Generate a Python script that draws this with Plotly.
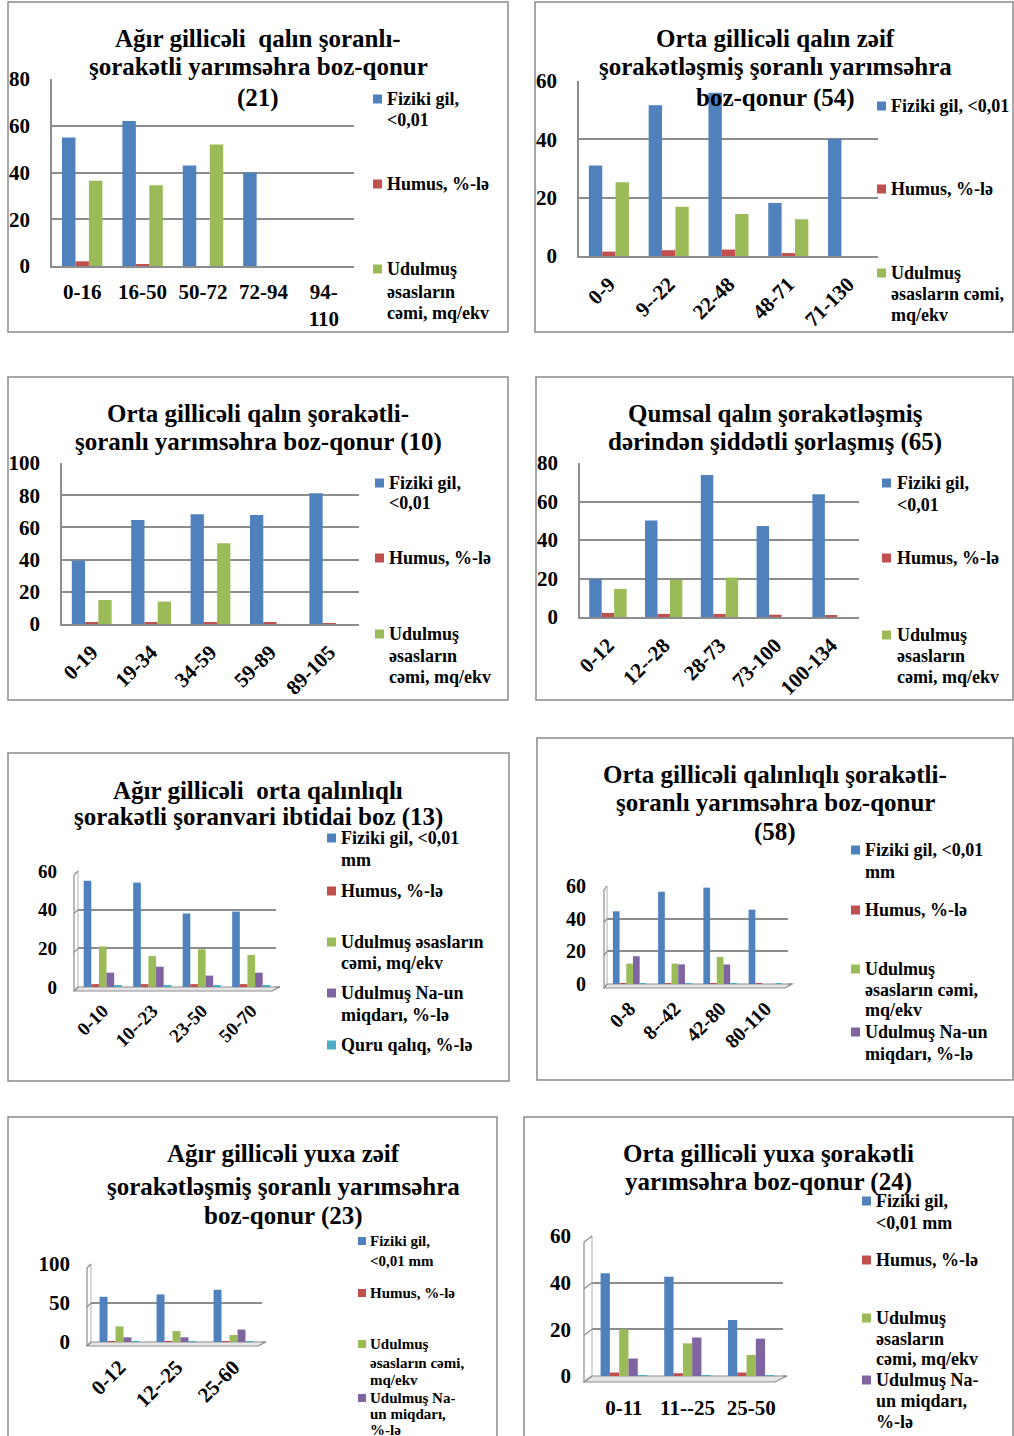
import plotly.graph_objects as go

W, H = 1014, 1436
FONT = "Liberation Serif, Times New Roman, serif"
GRID = "#8C8C8C"
COLORS = {
    "fiziki": "#4F81BD",
    "humus": "#C0504D",
    "udulmus": "#9BBB59",
    "na": "#8064A2",
    "quru": "#4BACC6",
}
NAMES = {
    "fiziki": "Fiziki gil, <0,01 mm",
    "humus": "Humus, %-lə",
    "udulmus": "Udulmuş əsasların cəmi, mq/ekv",
    "na": "Udulmuş Na-un miqdarı, %-lə",
    "quru": "Quru qalıq, %-lə",
}

# ---- data: soil profiles (depth intervals, cm) ----
cats_21 = ["0-16", "16-50", "50-72", "72-94", "94-<br>110"]
fiziki_21 = [55, 62, 43, 40, None]
humus_21 = [2.0, 0.8, None, None, None]
udulmus_21 = [36.5, 34.5, 52, None, None]

cats_54 = ["0-9", "9--22", "22-48", "48-71", "71-130"]
fiziki_54 = [31, 51.7, 56, 18.2, 40.2]
humus_54 = [1.5, 2.0, 2.2, 1.0, None]
udulmus_54 = [25.3, 16.9, 14.4, 12.6, None]

cats_10 = ["0-19", "19-34", "34-59", "59-89", "89-105"]
fiziki_10 = [39.3, 64.6, 68.1, 67.7, 81.2]
humus_10 = [1.0, 1.0, 1.0, 1.0, 0.3]
udulmus_10 = [14.9, 13.9, 50.1, None, None]

cats_65 = ["0-12", "12--28", "28-73", "73-100", "100-134"]
fiziki_65 = [19.7, 50.1, 73.8, 47.3, 63.8]
humus_65 = [2.1, 1.6, 1.6, 1.2, 1.0]
udulmus_65 = [14.6, 19.3, 20.5, None, None]

cats_13 = ["0-10", "10--23", "23-50", "50-70"]
fiziki_13 = [55, 54, 38, 39]
humus_13 = [1.5, 1.5, 1.5, 1.5]
udulmus_13 = [21, 16, 19.5, 16.6]
na_13 = [7.4, 10.5, 5.9, 7.4]
quru_13 = [0.6, 0.6, 0.6, 0.6]

cats_58 = ["0-8", "8--42", "42-80", "80-110"]
fiziki_58 = [44.5, 56.5, 59, 45.5]
humus_58 = [0.5, 0.5, 0.5, 0.5]
udulmus_58 = [12.5, 12.5, 16.5, None]
na_58 = [17, 12, 12, None]
quru_58 = [0.4, 0.4, 0.4, 0.4]

cats_23 = ["0-12", "12--25", "25-60"]
fiziki_23 = [58, 61, 67]
humus_23 = [1.0, 1.0, 1.0]
udulmus_23 = [20, 14, 9]
na_23 = [6, 6, 16]
quru_23 = [0.5, 0.5, 0.5]

cats_24 = ["0-11", "11--25", "25-50"]
fiziki_24 = [44, 42.5, 24]
humus_24 = [1.5, 1.2, 1.5]
udulmus_24 = [20, 14, 9]
na_24 = [7.5, 16.5, 16]
quru_24 = [0.4, 0.4, 0.4]


def fx(x):
    return x / W


def fy(y):
    return 1 - y / H


# ---- panel layouts (pixel geometry of each chart block) ----
panels = [
    dict(cats=cats_21,
         series=[("fiziki", fiziki_21), ("humus", humus_21), ("udulmus", udulmus_21)],
         box=(8, 2, 508, 332), plot=(52, 354, 266, 79), ymax=80, dtick=20, gap=0.33,
         angle=0, tick=21, depth=None, xstand=6,
         title=(258, 25, [("Ağır gillicəli\u00a0 qalın şoranlı-", 38),
                          ("şorakətli yarımsəhra boz-qonur", 67), ("(21)", 98)]),
         legend=(373, 9, 385, 18, [("fiziki", [("Fiziki gil,", 99), ("<0,01", 120)]),
                                   ("humus", [("Humus, %-lə", 184)]),
                                   ("udulmus", [("Udulmuş", 269), ("əsasların", 292),
                                                ("cəmi, mq/ekv", 313)])])),
    dict(cats=cats_54,
         series=[("fiziki", fiziki_54), ("humus", humus_54), ("udulmus", udulmus_54)],
         box=(535, 2, 1013, 332), plot=(579, 878, 256, 81), ymax=60, dtick=20, gap=0.33,
         angle=-45, tick=21, depth=None, xstand=6,
         title=(775, 25, [("Orta gillicəli qalın zəif", 38),
                          ("şorakətləşmiş şoranlı yarımsəhra", 67), ("boz-qonur (54)", 98)]),
         legend=(877, 9, 889, 18, [("fiziki", [("Fiziki gil, <0,01", 106)]),
                                   ("humus", [("Humus, %-lə", 189)]),
                                   ("udulmus", [("Udulmuş", 273), ("əsasların cəmi,", 294),
                                                ("mq/ekv", 315)])])),
    dict(cats=cats_10,
         series=[("fiziki", fiziki_10), ("humus", humus_10), ("udulmus", udulmus_10)],
         box=(8, 377, 508, 700), plot=(62, 359, 624, 463), ymax=100, dtick=20, gap=0.33,
         angle=-45, tick=21, depth=None, xstand=6,
         title=(258, 25, [("Orta gillicəli qalın şorakətli-", 413),
                          ("şoranlı yarımsəhra boz-qonur (10)", 442)]),
         legend=(375, 9, 387, 18, [("fiziki", [("Fiziki gil,", 483), ("<0,01", 503)]),
                                   ("humus", [("Humus, %-lə", 558)]),
                                   ("udulmus", [("Udulmuş", 634), ("əsasların", 656),
                                                ("cəmi, mq/ekv", 677)])])),
    dict(cats=cats_65,
         series=[("fiziki", fiziki_65), ("humus", humus_65), ("udulmus", udulmus_65)],
         box=(536, 377, 1013, 700), plot=(580, 859, 617, 463), ymax=80, dtick=20, gap=0.33,
         angle=-45, tick=21, depth=None, xstand=6,
         title=(775, 25, [("Qumsal qalın şorakətləşmiş", 413),
                          ("dərindən şiddətli şorlaşmış (65)", 442)]),
         legend=(882, 9, 895, 18, [("fiziki", [("Fiziki gil,", 483), ("<0,01", 505)]),
                                   ("humus", [("Humus, %-lə", 558)]),
                                   ("udulmus", [("Udulmuş", 635), ("əsasların", 656),
                                                ("cəmi, mq/ekv", 677)])])),
    dict(cats=cats_13,
         series=[("fiziki", fiziki_13), ("humus", humus_13), ("udulmus", udulmus_13),
                 ("na", na_13), ("quru", quru_13)],
         box=(8, 753, 509, 1081), plot=(78, 276, 987, 871), ymax=60, dtick=20, gap=0.23,
         angle=-45, tick=19, depth=(4, 4), xstand=8,
         title=(258, 25, [("Ağır gillicəli\u00a0 orta qalınlıqlı", 790),
                          ("şorakətli şoranvari ibtidai boz (13)", 817)]),
         legend=(327, 9, 339, 18, [("fiziki", [("Fiziki gil, <0,01", 838), ("mm", 860)]),
                                   ("humus", [("Humus, %-lə", 891)]),
                                   ("udulmus", [("Udulmuş əsasların", 942), ("cəmi, mq/ekv", 963)]),
                                   ("na", [("Udulmuş Na-un", 993), ("miqdarı, %-lə", 1015)]),
                                   ("quru", [("Quru qalıq, %-lə", 1045)])])),
    dict(cats=cats_58,
         series=[("fiziki", fiziki_58), ("humus", humus_58), ("udulmus", udulmus_58),
                 ("na", na_58), ("quru", quru_58)],
         box=(537, 738, 1013, 1080), plot=(607, 788, 984, 886), ymax=60, dtick=20, gap=0.26,
         angle=-45, tick=20, depth=(3, 4), xstand=8,
         title=(775, 25, [("Orta gillicəli qalınlıqlı şorakətli-", 775),
                          ("şoranlı yarımsəhra boz-qonur", 802), ("(58)", 832)]),
         legend=(851, 9, 863, 18, [("fiziki", [("Fiziki gil, <0,01", 850), ("mm", 872)]),
                                   ("humus", [("Humus, %-lə", 910)]),
                                   ("udulmus", [("Udulmuş", 969), ("əsasların cəmi,", 990),
                                                ("mq/ekv", 1010)]),
                                   ("na", [("Udulmuş Na-un", 1032), ("miqdarı, %-lə", 1054)])])),
    dict(cats=cats_23,
         series=[("fiziki", fiziki_23), ("humus", humus_23), ("udulmus", udulmus_23),
                 ("na", na_23), ("quru", quru_23)],
         box=(8, 1117, 497, 1440), plot=(91, 262, 1342, 1264), ymax=100, dtick=50, gap=0.30,
         angle=-45, tick=21, depth=(4, 4), xstand=8,
         title=(283, 25, [("Ağır gillicəli yuxa zəif", 1153),
                          ("şorakətləşmiş şoranlı yarımsəhra", 1186), ("boz-qonur (23)", 1216)]),
         legend=(358, 8, 368, 15, [("fiziki", [("Fiziki gil,", 1241), ("<0,01 mm", 1261)]),
                                   ("humus", [("Humus, %-lə", 1293)]),
                                   ("udulmus", [("Udulmuş", 1344), ("əsasların cəmi,", 1363),
                                                ("mq/ekv", 1380)]),
                                   ("na", [("Udulmuş Na-", 1398), ("un miqdarı,", 1414),
                                           ("%-lə", 1430)])])),
    dict(cats=cats_24,
         series=[("fiziki", fiziki_24), ("humus", humus_24), ("udulmus", udulmus_24),
                 ("na", na_24), ("quru", quru_24)],
         box=(524, 1117, 1013, 1440), plot=(592, 783, 1376, 1236), ymax=60, dtick=20, gap=0.27,
         angle=0, tick=21, depth=(8, 6), xstand=17,
         title=(768, 25, [("Orta gillicəli yuxa şorakətli", 1153),
                          ("yarımsəhra boz-qonur (24)", 1182)]),
         legend=(862, 9, 874, 18, [("fiziki", [("Fiziki gil,", 1201), ("<0,01 mm", 1223)]),
                                   ("humus", [("Humus, %-lə", 1260)]),
                                   ("udulmus", [("Udulmuş", 1318), ("əsasların", 1339),
                                                ("cəmi, mq/ekv", 1359)]),
                                   ("na", [("Udulmuş Na-", 1380), ("un miqdarı,", 1401),
                                           ("%-lə", 1422)])])),
]

fig = go.Figure()
shapes = []
annotations = []
layout_axes = {}


def line(x0, y0, x1, y1, color=GRID, width=1.2):
    shapes.append(dict(type="line", xref="paper", yref="paper",
                       x0=fx(x0), y0=fy(y0), x1=fx(x1), y1=fy(y1),
                       line=dict(color=color, width=width)))


for i, p in enumerate(panels):
    n = i + 1
    xa = "x" if n == 1 else f"x{n}"
    ya = "y" if n == 1 else f"y{n}"
    x0, x1, y0, ytop = p["plot"]
    three_d = p["depth"] is not None

    # outer frame of the chart block
    bx0, by0, bx1, by1 = p["box"]
    shapes.append(dict(type="rect", xref="paper", yref="paper",
                       x0=fx(bx0), y0=fy(by1), x1=fx(bx1), y1=fy(by0),
                       line=dict(color="#8A8A8A", width=1.5), layer="below"))

    # bars: each series gets its own slot inside the category
    nser = len(p["series"])
    span = 1 - p["gap"]
    bw = span / nser
    for k, (key, vals) in enumerate(p["series"]):
        fig.add_trace(go.Bar(
            x=p["cats"], y=vals, name=NAMES[key], xaxis=xa, yaxis=ya,
            marker=dict(color=COLORS[key], line=dict(width=0)),
            width=bw, offset=-span / 2 + k * bw, showlegend=False,
        ))

    tickfont = dict(family=FONT, size=p["tick"], color="black", weight="bold")
    layout_axes[f"xaxis{'' if n == 1 else n}"] = dict(
        domain=[fx(x0), fx(x1)], anchor=ya, type="category",
        categoryorder="array", categoryarray=p["cats"],
        range=[-0.5, len(p["cats"]) - 0.5], automargin=False,
        showgrid=False, zeroline=False, ticks="",
        showline=not three_d, linecolor=GRID, linewidth=1.5,
        tickangle=p["angle"], tickfont=tickfont,
        ticklabelstandoff=p["xstand"],
        fixedrange=True,
    )
    layout_axes[f"yaxis{'' if n == 1 else n}"] = dict(
        domain=[fy(y0), fy(ytop)], anchor=xa, range=[0, p["ymax"]], automargin=False,
        dtick=p["dtick"], tick0=0, showgrid=True, gridcolor=GRID, gridwidth=1.5,
        zeroline=False, ticks="", showline=not three_d, linecolor=GRID, linewidth=1.5,
        tickfont=tickfont, ticklabelstandoff=16 if not three_d else 20,
        fixedrange=True,
    )

    if three_d:
        dx, dy = p["depth"]
        # floor slab
        shapes.append(dict(
            type="path", xref="paper", yref="paper",
            path=(f"M{fx(x0 - dx)},{fy(y0 + dy)} L{fx(x1 - dx)},{fy(y0 + dy)} "
                  f"L{fx(x1 + 4)},{fy(y0)} L{fx(x0)},{fy(y0)} Z"),
            fillcolor="#E6E6E6", line=dict(color=GRID, width=1.2), layer="below"))
        # side wall: front edge and connectors to the back-wall gridlines
        line(x0 - dx, ytop + dy, x0 - dx, y0 + dy)
        line(x0, ytop, x0, y0, color="#B0B0B0", width=1)
        v = 0
        while v <= p["ymax"] + 1e-9:
            gy = y0 - v / p["ymax"] * (y0 - ytop)
            line(x0 - dx, gy + dy, x0, gy)
            v += p["dtick"]
        line(x1, y0, x1 + 4, y0)

    # title lines
    cx, tsize, tlines = p["title"]
    for text, ty in tlines:
        annotations.append(dict(
            text=f"<b>{text}</b>", x=fx(cx), y=fy(ty), xref="paper", yref="paper",
            xanchor="center", yanchor="middle", showarrow=False,
            font=dict(family=FONT, size=tsize, color="black")))

    # legend block
    sqx, sqs, tx, lsize, entries = p["legend"]
    for key, rows in entries:
        fy0 = rows[0][1]
        shapes.append(dict(type="rect", xref="paper", yref="paper",
                           x0=fx(sqx), x1=fx(sqx + sqs),
                           y0=fy(fy0 + sqs / 2), y1=fy(fy0 - sqs / 2),
                           fillcolor=COLORS[key], line=dict(width=0)))
        for text, ty in rows:
            annotations.append(dict(
                text=f"<b>{text}</b>", x=fx(tx), y=fy(ty), xref="paper", yref="paper",
                xanchor="left", yanchor="middle", showarrow=False,
                font=dict(family=FONT, size=lsize, color="black")))

fig.update_layout(
    width=W, height=H, margin=dict(l=0, r=0, t=0, b=0, pad=0, autoexpand=False),
    paper_bgcolor="white", plot_bgcolor="rgba(0,0,0,0)",
    barmode="overlay", showlegend=False,
    shapes=shapes, annotations=annotations, **layout_axes,
)

fig.write_html("out.html")
